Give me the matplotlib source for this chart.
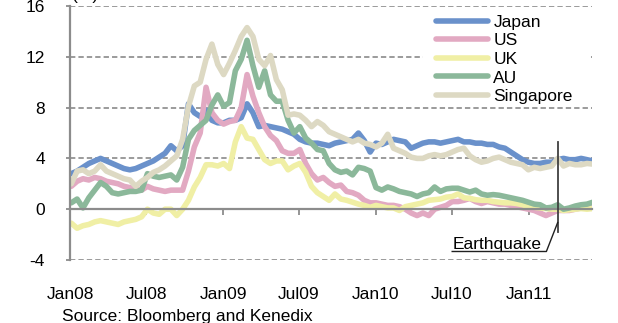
import pandas as pd
import matplotlib
matplotlib.use("Agg")
import matplotlib.pyplot as plt
from matplotlib.patches import Rectangle

# Fortnightly spread observations, Jan 2008 - Jun 2011 (%)
dates = pd.date_range("2008-01-04", periods=90, freq="14D")

japan = [2.8, 3.0, 3.3, 3.6, 3.8, 4.0, 3.8, 3.6, 3.4, 3.2,
         3.1, 3.2, 3.4, 3.6, 3.8, 4.1, 4.4, 5.0, 4.6, 5.0,
         8.3, 7.6, 7.3, 7.8, 7.0, 6.8, 6.8, 7.0, 7.0, 7.2,
         8.3, 7.6, 6.5, 6.6, 6.5, 6.4, 6.3, 6.1, 5.9, 5.5,
         5.3, 5.2, 5.2, 5.1, 5.0, 5.2, 5.3, 5.4, 5.5, 6.0,
         5.4, 4.5, 5.2, 5.1, 5.3, 5.5, 5.4, 5.3, 4.8, 5.0,
         5.2, 5.3, 5.3, 5.2, 5.3, 5.4, 5.5, 5.3, 5.3, 5.2,
         5.2, 5.1, 5.1, 4.9, 4.8, 4.5, 4.2, 3.9, 3.7, 3.6,
         3.6, 3.7, 3.7, 3.9, 4.0, 3.9, 3.9, 4.0, 3.9, 3.8]

us = [1.8, 2.2, 2.4, 2.3, 2.5, 2.4, 2.2, 2.1, 2.0, 1.8,
      1.7, 1.6, 1.5, 1.8, 1.6, 1.5, 1.4, 1.5, 1.5, 1.5,
      3.0, 4.9, 6.0, 9.6, 7.6, 7.0, 6.7, 6.9, 7.0, 8.0,
      10.6, 8.9, 7.6, 6.5, 5.8, 5.4, 4.6, 4.4, 4.4, 4.7,
      3.6, 2.8, 2.3, 2.5, 2.1, 1.8, 1.9, 1.4, 1.3, 1.1,
      0.7, 0.5, 0.5, 0.4, 0.3, 0.3, 0.2, 0.0, -0.3, -0.5,
      -0.3, -0.5, 0.0, 0.15, 0.3, 0.6, 0.6, 0.7, 0.85, 0.6,
      0.45, 0.6, 0.5, 0.4, 0.4, 0.3, 0.2, 0.1, 0.0, -0.1,
      -0.3, -0.5, -0.3, -0.1, -0.1, -0.1, 0.0, 0.1, 0.1, 0.1]

uk = [-1.1, -1.5, -1.3, -1.2, -1.0, -0.9, -1.0, -1.1, -1.2, -1.0,
      -0.9, -0.8, -0.6, 0.0, -0.3, -0.4, 0.0, 0.0, -0.5, 0.0,
      0.7, 1.75, 2.5, 3.5, 3.5, 3.4, 3.6, 3.2, 5.3, 6.5,
      5.6, 5.5, 4.7, 3.9, 3.6, 3.8, 3.8, 3.1, 3.4, 3.6,
      2.9, 1.8, 1.3, 1.0, 0.7, 1.2, 0.8, 0.7, 0.55, 0.4,
      0.3, 0.15, 0.3, 0.2, 0.1, 0.1, -0.1, 0.2, 0.3, 0.4,
      0.5, 0.7, 0.75, 0.8, 0.95, 1.0, 1.2, 0.9, 0.85, 0.75,
      0.7, 0.7, 0.6, 0.55, 0.5, 0.5, 0.45, 0.35, 0.2, 0.15,
      0.1, 0.05, 0.0, 0.0, -0.1, -0.05, 0.0, 0.05, 0.0, 0.05]

au = [0.5, 0.8, 0.1, 0.9, 1.5, 2.1, 1.8, 1.3, 1.2, 1.3,
      1.4, 1.4, 1.5, 2.8, 2.6, 2.5, 2.6, 2.7, 2.3, 3.3,
      5.5, 6.2, 6.6, 7.0, 8.2, 9.0, 8.1, 8.4, 10.9, 11.8,
      13.3, 11.3, 9.6, 10.9, 9.0, 8.5, 8.5, 7.0, 6.0, 6.5,
      5.6, 5.2, 4.7, 4.6, 3.6, 3.1, 2.9, 3.0, 2.7, 3.3,
      3.2, 3.0, 1.7, 1.5, 1.75, 1.6, 1.4, 1.3, 1.2, 1.0,
      1.2, 1.3, 1.75, 1.4, 1.6, 1.65, 1.65, 1.5, 1.35, 1.5,
      1.2, 1.1, 1.15, 1.1, 1.0, 0.9, 0.8, 0.7, 0.55, 0.4,
      0.35, 0.1, 0.15, 0.35, 0.0, 0.1, 0.25, 0.35, 0.4, 0.55]

singapore = [2.0, 3.0, 3.1, 2.8, 3.0, 3.5, 3.0, 2.8, 2.6, 2.4,
             2.3, 1.8, 2.2, 2.5, 2.9, 3.1, 3.4, 3.8, 4.2, 5.5,
             8.1, 9.7, 10.0, 11.8, 13.0, 11.4, 10.6, 11.5, 12.5, 13.6,
             14.3, 13.6, 11.8, 11.3, 12.1, 10.2, 9.4, 7.4, 7.5, 7.4,
             7.0, 6.5, 6.9, 6.6, 6.1, 5.9, 5.7, 5.5, 5.3, 5.5,
             5.2, 5.1, 4.9, 5.2, 5.9, 4.8, 4.6, 4.4, 4.1, 4.0,
             4.0, 4.2, 4.3, 4.2, 4.3, 4.5, 4.7, 4.8, 4.2, 3.9,
             3.7, 3.8, 4.0, 4.1, 3.9, 3.7, 3.6, 3.5, 3.1, 3.3,
             3.2, 3.3, 3.4, 4.0, 3.4, 3.6, 3.5, 3.5, 3.6, 3.55]

series_names = ["Japan", "US", "UK", "AU", "Singapore"]
series_values = [japan, us, uk, au, singapore]
series_colors = ["#6A91CB", "#E2A9C2", "#F0EFA5", "#8BB89A", "#DDD9C3"]

tick_dates = pd.to_datetime(["2008-01-01", "2008-07-01", "2009-01-01", "2009-07-01",
                             "2010-01-01", "2010-07-01", "2011-01-01"])
tick_labels = ["Jan08", "Jul08", "Jan09", "Jul09", "Jan10", "Jul10", "Jan11"]
y_ticks = [-4, 0, 4, 8, 12, 16]
grid_levels = [-4, 4, 8, 12, 16]
quake_date = pd.Timestamp("2011-03-11")

plt.rcParams["font.family"] = ["Liberation Sans", "DejaVu Sans"]
FS = 12.5
AXIS_GREY = "#8C8C8C"
W, H = 618, 323

fig = plt.figure(figsize=(W / 100, H / 100), dpi=100)
ax = fig.add_axes([70 / W, 1 - 260 / H, 522 / W, 254 / H])

for lvl in grid_levels:
    ax.axhline(lvl, color="#808080", lw=1.1, ls=(0, (3.5, 2.0)), zorder=0.5)

for name, vals, col in zip(series_names, series_values, series_colors):
    ax.plot(dates, vals, color=col, lw=4.0, label=name, solid_capstyle="round",
            solid_joinstyle="round", zorder=2)

ax.set_xlim(pd.Timestamp("2008-01-01"), pd.Timestamp("2011-06-01"))
ax.set_ylim(-4, 16)

for side in ("top", "right"):
    ax.spines[side].set_visible(False)
ax.spines["bottom"].set_position(("data", 0))
for side in ("bottom", "left"):
    ax.spines[side].set_color(AXIS_GREY)
    ax.spines[side].set_linewidth(1.6)

ax.set_xticks(tick_dates)
ax.set_xticklabels(tick_labels)
ax.set_yticks(y_ticks)
ax.set_yticklabels([str(v) for v in y_ticks])
ax.tick_params(axis="x", direction="out", length=4, width=1.3, color=AXIS_GREY,
               pad=52, labelsize=FS)
ax.tick_params(axis="y", direction="out", length=3, width=1.3, color=AXIS_GREY,
               pad=15, labelsize=FS)

# white backing behind the legend, masking the gridline it sits on
ax.add_patch(Rectangle((423 / W, 1 - 104 / H), 165 / W, 92 / H,
                       transform=fig.transFigure, facecolor="white",
                       edgecolor="none", zorder=1))

leg = ax.legend(loc="upper left", bbox_to_anchor=(436 / W, 1 - 14.5 / H),
                bbox_transform=fig.transFigure, fontsize=FS, frameon=False,
                borderaxespad=0, borderpad=0.0, handlelength=3.0,
                handletextpad=0.3, labelspacing=0.20)
for line in leg.get_lines():
    line.set_linewidth(4.0)

# Earthquake marker with leader line and underlined caption
ax.plot([quake_date, quake_date], [5.3, -1.8], color="#404040", lw=1.3,
        clip_on=False, zorder=5)
ax.plot([pd.Timestamp("2010-07-02"), pd.Timestamp("2011-02-12"), quake_date],
        [-3.33, -3.33, -1.05], color="#202020", lw=1.0, clip_on=False, zorder=5)
ax.text(pd.Timestamp("2010-07-03"), -3.1, "Earthquake", fontsize=FS,
        ha="left", va="baseline", color="black")

fig.text(72 / W, 1.0, "(%)", fontsize=FS, ha="left", va="baseline")
fig.text(62 / W, 1 - 321 / H, "Source: Bloomberg and Kenedix", fontsize=FS,
         ha="left", va="baseline")

fig.savefig("out.png", dpi=100)
